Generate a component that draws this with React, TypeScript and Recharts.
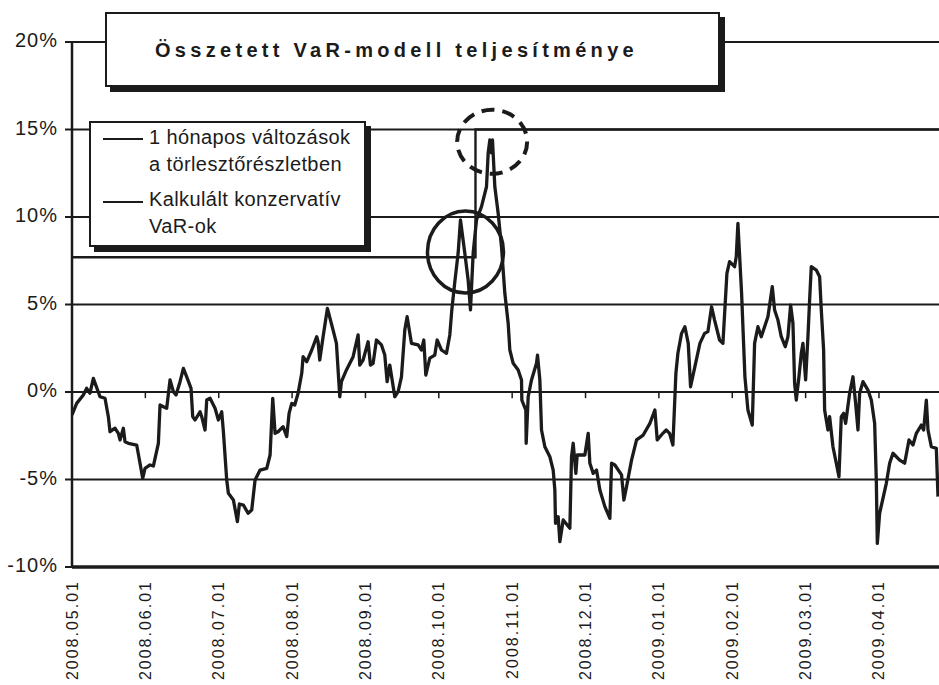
import React from 'react'
import {
  LineChart,
  Line,
  XAxis,
  YAxis,
  CartesianGrid,
  ReferenceLine,
  ReferenceDot,
  Legend,
} from 'recharts'

const FONT = '"Liberation Sans", Arial, Helvetica, sans-serif'
const INK = '#1b1b1b'

// trading day counted from 2008.05.01 (the axis shows one label every 22 days)
const DAY_IDX = [
  0, 1.4, 3.4, 4.4, 5.4, 6.4, 8.4, 9.9, 10.9, 11.4, 12.9, 13.9, 14.4, 15.4, 15.9, 16.9, 19.4, 20.4,
  21.2, 21.9, 23.4, 24.4, 25.9, 26.4, 27.4, 28.4, 29.4, 30.4, 31.2, 32.4, 33.4, 34.4, 35.7, 36.2,
  36.9, 38.4, 38.9, 39.9, 40.4, 41.4, 42.9, 43.9, 44.9, 45.4, 46.4, 46.9, 48.4, 49.6, 50.2, 51.4,
  52.8, 53.9, 54.9, 56.4, 58.4, 59.4, 60.2, 60.9, 61.8, 63.3, 64.4, 65.1, 65.9, 66.8, 67.8, 68.9,
  69.3, 70.4, 71.9, 73.4, 73.8, 74.3, 75.3, 76.6, 78.3, 79.3, 80.3, 80.8, 82.3, 84.3, 85.8, 86.3,
  87.3, 88.8, 89.5, 90.3, 91.3, 92.8, 93.8, 94.5, 95.3, 96.8, 97.8, 98.8, 99.8, 100.5, 101.8, 103.8,
  104.8, 105.5, 106.1, 107.3, 108.8, 109.5, 110.8, 112.3, 113.3, 113.9, 114.8, 115.8, 116.5, 117.8,
  118.8, 119.5, 120.3, 121.3, 122.8, 124.3, 124.8, 125.3, 125.8, 126.1, 126.8, 127.8, 128.8, 129.8,
  130.8, 131.3, 132.3, 133.8, 134.8, 134.9, 136.1, 136.2, 136.8, 137.8, 139.3, 139.6, 140.3, 140.8,
  141.8, 143.3, 144.3, 144.8, 145.0, 145.8, 146.3, 147.3, 149.3, 149.8, 150.3, 151.1, 151.5, 153.8,
  154.8, 155.3, 156.3, 157.3, 158.3, 159.8, 161.3, 161.8, 162.8, 164.8, 165.5, 166.3, 167.8, 169.3,
  171.3, 173.3, 174.8, 175.5, 177.2, 178.2, 179.2, 180.2, 181.1, 181.7, 182.8, 183.8, 184.8, 185.5,
  186.8, 188.3, 189.7, 190.7, 191.8, 192.7, 194.2, 195.2, 196.4, 197.2, 198.7, 199.2, 199.7, 200.8,
  201.8, 202.7, 204.0, 204.7, 205.7, 206.7, 208.7, 210.0, 210.7, 211.7, 212.7, 213.9, 214.7, 215.5,
  216.2, 216.7, 217.2, 218.0, 218.7, 219.2, 220.0, 220.7, 221.2, 221.7, 223.2, 224.2, 224.7, 225.4,
  225.7, 226.2, 226.7, 227.2, 228.2, 229.2, 230.0, 230.7, 231.4, 232.0, 233.2, 234.2, 235.0, 235.7,
  236.2, 237.2, 238.7, 239.7, 240.7, 241.2, 241.5, 242.2, 244.2, 245.2, 246.2, 248.2, 249.7, 251.0,
  252.2, 253.2, 254.7, 255.4, 256.2, 256.7, 257.7, 259.2, 259.7,
]

// 1 hónapos változások a törlesztőrészletben (%)
const CHANGE_PCT = [
  -1.3, -0.65, -0.17, 0.21, -0.07, 0.78, -0.27, -0.36, -1.41, -2.27, -2.07, -2.36, -2.74, -2.07, -2.84,
  -2.93, -3.03, -4.07, -4.93, -4.36, -4.17, -4.23, -2.93, -0.74, -0.84, -0.93, 0.69, 0.02, -0.17, 0.59,
  1.35, 0.87, 0.21, -1.41, -1.6, -1.13, -1.41, -2.17, -0.46, -0.36, -0.93, -1.6, -1.13, -2.27, -5.03,
  -5.79, -6.17, -7.41, -6.4, -6.46, -6.93, -6.74, -5.03, -4.46, -4.36, -3.6, -0.36, -2.36, -2.27, -1.98,
  -2.55, -1.22, -0.65, -0.74, -0.07, 1.07, 2.02, 1.73, 2.4, 3.16, 2.87, 1.83, 3.16, 4.78, 3.54, 2.78,
  -0.27, 0.59, 1.26, 2.02, 3.26, 1.54, 1.83, 2.87, 1.54, 1.64, 2.97, 2.69, 2.11, 0.59, 1.54, -0.27,
  0.02, 0.87, 3.54, 4.3, 2.78, 2.69, 2.4, 2.97, 0.97, 1.93, 2.11, 2.97, 2.4, 2.21, 3.26, 4.69, 6.29,
  7.94, 9.83, 7.93, 6.4, 4.69, 7.93, 9.83, 10.59, 11.73, 13.64, 14.4, 13.66, 14.4, 11.73, 10.21, 8.3,
  5.64, 3.93, 2.4, 1.64, 1.26, 0.69, -0.46, -1.03, -2.93, -0.27, 0.69, 1.64, 2.11, 0.69, -2.17, -3.13,
  -3.7, -4.46, -5.6, -7.5, -7.13, -8.55, -7.31, -7.79, -3.7, -2.93, -4.65, -3.6, -3.6, -2.36, -4.07,
  -4.65, -4.46, -5.6, -6.55, -7.22, -4.07, -4.17, -4.74, -6.17, -5.41, -3.89, -2.74, -2.46, -1.79,
  -1.03, -2.74, -2.36, -2.17, -2.36, -3.03, 1.07, 2.21, 3.35, 3.73, 2.78, 0.3, 1.45, 2.78, 3.35, 3.45,
  4.87, 4.11, 2.97, 2.78, 6.78, 7.45, 7.16, 7.73, 9.64, 5.64, 0.87, -1.03, -1.89, 2.78, 3.73, 3.16,
  4.3, 6.02, 4.69, 4.11, 3.16, 2.59, 3.16, 4.97, 3.93, 0.5, -0.46, 0.87, 2.21, 2.78, 0.69, 3.16, 5.26,
  7.16, 6.97, 6.59, 4.69, 2.4, -1.03, -1.6, -2.17, -1.41, -3.13, -4.07, -4.84, -1.41, -1.22, -1.79,
  -0.07, 0.87, -0.65, -2.17, -0.07, 0.59, 0.11, -0.46, -1.79, -5.03, -8.65, -6.93, -5.22, -4.07, -3.5,
  -3.89, -4.07, -2.74, -3.03, -2.36, -1.89, -2.17, -0.46, -2.17, -3.13, -3.22, -5.98,
]

// Kalkulált konzervatív VaR-ok (%)
const VAR_IDX = [0, 121, 260]
const VAR_PCT = [7.7, 15, 15]

const MONTH_IDX = [0, 22, 44, 66, 88, 110, 132, 154, 176, 198, 220, 242]
const MONTH_LABELS = [
  '2008.05.01', '2008.06.01', '2008.07.01', '2008.08.01', '2008.09.01', '2008.10.01',
  '2008.11.01', '2008.12.01', '2009.01.01', '2009.02.01', '2009.03.01', '2009.04.01',
]
const Y_TICKS = [-10, -5, 0, 5, 10, 15, 20]

const changeData = DAY_IDX.map((d, i) => ({ day: d, value: CHANGE_PCT[i] }))
const varData = VAR_IDX.map((d, i) => ({ day: d, value: VAR_PCT[i] }))

function DateTick({ x, y, payload }: any) {
  const label = MONTH_LABELS[MONTH_IDX.indexOf(payload.value)]
  const top = y + 5
  return (
    <text
      x={x}
      y={top}
      transform={`rotate(-90 ${x} ${top})`}
      textAnchor="end"
      dominantBaseline="central"
      fontSize={16}
      letterSpacing={2}
      fill={INK}
      fontFamily={FONT}
    >
      {label}
    </text>
  )
}

function PctTick({ x, y, payload }: any) {
  return (
    <text
      x={x}
      y={y - 2}
      textAnchor="end"
      dominantBaseline="central"
      fontSize={20}
      letterSpacing={1}
      fill={INK}
      fontFamily={FONT}
    >
      {`${payload.value}%`}
    </text>
  )
}

function Ellipse({ cx, cy, rx, ry, dashed }: any) {
  return (
    <ellipse
      cx={cx}
      cy={cy}
      rx={rx}
      ry={ry}
      fill="none"
      stroke={INK}
      strokeWidth={dashed ? 4 : 3.5}
      strokeDasharray={dashed ? '13 8' : undefined}
    />
  )
}

function LegendBox() {
  const text = {
    position: 'absolute' as const,
    left: 58,
    fontSize: 20,
    letterSpacing: 0.4,
    lineHeight: '26.7px',
    color: INK,
    whiteSpace: 'nowrap' as const,
  }
  const swatch = { position: 'absolute' as const, left: 12, width: 40, height: 2, background: INK }
  return (
    <div
      style={{
        position: 'relative',
        width: 277,
        height: 126,
        boxSizing: 'border-box',
        border: `2px solid ${INK}`,
        background: '#fff',
        boxShadow: `5px 5px 0 ${INK}`,
        fontFamily: FONT,
      }}
    >
      <div style={{ ...swatch, top: 15 }} />
      <div style={{ ...text, top: 1 }}>
        1 hónapos változások
        <br />
        a törlesztőrészletben
      </div>
      <div style={{ ...swatch, top: 78 }} />
      <div style={{ ...text, top: 63 }}>
        Kalkulált konzervatív
        <br />
        VaR-ok
      </div>
    </div>
  )
}

export default function App() {
  return (
    <div style={{ position: 'absolute', left: 0, top: 0, width: 939, height: 685, background: '#fff' }}>
      <LineChart width={939} height={685} margin={{ top: 42, right: 0, left: 12, bottom: 8 }}>
        <CartesianGrid vertical={false} stroke={INK} strokeWidth={2} />
        <XAxis
          type="number"
          dataKey="day"
          domain={[0, 260]}
          ticks={MONTH_IDX}
          interval={0}
          tick={<DateTick />}
          tickLine={false}
          axisLine={{ stroke: INK, strokeWidth: 3.5 }}
          height={110}
          allowDataOverflow
        />
        <YAxis
          type="number"
          domain={[-10, 20]}
          ticks={Y_TICKS}
          interval={0}
          width={60}
          tick={<PctTick />}
          tickSize={7}
          tickMargin={7}
          tickLine={{ stroke: INK, strokeWidth: 2 }}
          axisLine={{ stroke: INK, strokeWidth: 2.5 }}
        />
        {MONTH_IDX.slice(1).map(d => (
          <ReferenceLine
            key={d}
            segment={[{ x: d, y: 0 }, { x: d, y: -0.35 }]}
            stroke={INK}
            strokeWidth={1.5}
          />
        ))}
        <Line
          data={varData}
          dataKey="value"
          name="Kalkulált konzervatív VaR-ok"
          type="stepAfter"
          stroke={INK}
          strokeWidth={2.4}
          dot={false}
          isAnimationActive={false}
        />
        <Line
          data={changeData}
          dataKey="value"
          name="1 hónapos változások a törlesztőrészletben"
          type="linear"
          stroke={INK}
          strokeWidth={3.3}
          strokeLinejoin="round"
          dot={false}
          isAnimationActive={false}
        />
        <ReferenceDot x={118} y={8} r={40} shape={(p: any) => <Ellipse {...p} rx={38} ry={41} />} />
        <ReferenceDot x={126} y={14.3} r={34} shape={(p: any) => <Ellipse {...p} rx={35} ry={32} dashed />} />
        <Legend
          layout="horizontal"
          verticalAlign="middle"
          align="center"
          content={() => <LegendBox />}
          wrapperStyle={{ position: 'absolute', left: 89, top: 121, width: 'auto', height: 'auto' }}
        />
      </LineChart>
      <div
        style={{
          position: 'absolute',
          left: 105,
          top: 12,
          width: 615,
          height: 75,
          boxSizing: 'border-box',
          border: `2px solid ${INK}`,
          background: '#fff',
          boxShadow: `5px 5px 0 ${INK}`,
          fontFamily: FONT,
          fontWeight: 'bold',
          fontSize: 20,
          letterSpacing: 4.3,
          color: INK,
          paddingLeft: 48,
          paddingTop: 25,
          whiteSpace: 'nowrap',
        }}
      >
        Összetett VaR-modell teljesítménye
      </div>
    </div>
  )
}
